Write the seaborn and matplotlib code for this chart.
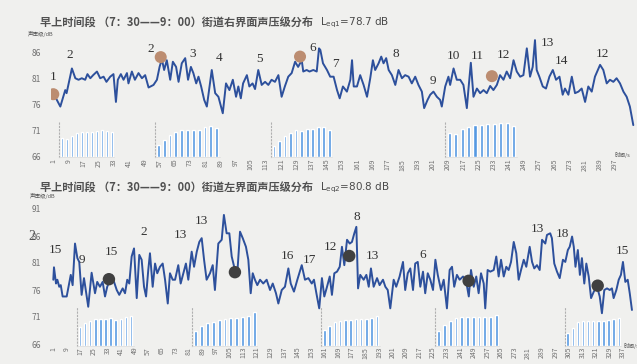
import matplotlib
matplotlib.use("Agg")
import matplotlib.pyplot as plt
import seaborn as sns

sns.set_theme(style="white")
plt.rcParams['font.family'] = ['Noto Sans CJK SC', 'DejaVu Sans']

# ---------------- data: right facade (top) ----------------
top_t = [1, 4.7, 7.3, 8, 10.8, 12.6, 14.3, 16, 17.8, 19, 20.5, 22, 24, 25.7, 27.5, 29, 31, 32.7, 34, 35,
         36.6, 38, 39.8, 40.6, 42.4, 44, 45.9, 47.7, 49.4, 51.2, 53.8, 55.6, 57, 58.2, 59.4, 60.8, 62.6, 64, 65.7, 67,
         68.7, 70.5, 72, 73.5, 74.8, 76.3, 77.5, 78.9, 80.5, 81.9, 83.3, 84.5, 86.3, 88, 90.3, 92, 93.8, 95.6, 97.3, 98.5,
         99.8, 101, 103, 104.3, 106, 107.3, 109, 110.8, 112.6, 114.3, 116, 117.8, 119.6, 121.3, 123, 124.8, 126.6, 128.4, 130, 131.9,
         132.7, 134.5, 136, 138, 139.8, 141, 141.7, 143.1, 145.2, 146.9, 148.7, 150.5, 151.9, 153.6, 155.7, 157.5, 158.4, 159.3, 161, 162.7,
         164.5, 166.3, 168, 169.4, 170.6, 172.4, 173.8, 175, 176.4, 177.7, 179.4, 181.2, 182.9, 184.7, 186.4, 188.2, 189.9, 191.7, 193.4, 195.2,
         196.4, 198.2, 199.6, 201.3, 203.1, 204.8, 205.7, 207.5, 209.2, 210.1, 211.9, 213.6, 215.4, 217.1, 218.9, 219.7, 221, 222.4, 224.2, 225.9,
         227.7, 229.4, 231.2, 232.9, 234.7, 236.4, 238.2, 239.9, 241.7, 243.5, 245.2, 247, 248.7, 250.5, 252.2, 253.6, 254.8, 255.7, 257.1, 258.9,
         260.6, 262.4, 264.2, 265.9, 267.7, 269.4, 270.6, 272.4, 274.2, 275.9, 277.7, 279.4, 281.2, 282.9, 284.7, 286.4, 289.1, 290.8, 292.6, 294.3,
         296.1, 297.8, 299.6, 301.4, 303.1, 304.8, 306.6]
top_db = [78.2, 75.6, 78.8, 78.2, 83.0, 81.1, 80.8, 81.1, 80.8, 81.9, 81.1, 81.7, 82.4, 81.1, 81.4, 80.4, 81.4, 81.9, 76.5, 80.8,
          81.9, 80.8, 82.1, 80.1, 82.4, 80.8, 82.1, 81.1, 81.7, 79.3, 79.8, 80.8, 83.3, 84.8, 82.7, 84.6, 80.8, 84.3, 83.3, 80.4,
          84.0, 85.0, 80.8, 83.3, 82.1, 80.1, 81.4, 79.5, 76.9, 75.6, 79.5, 82.7, 78.2, 77.5, 74.3, 80.1, 78.8, 80.8, 77.5, 79.5,
          77.2, 80.1, 81.7, 79.5, 80.1, 79.0, 82.7, 79.8, 80.4, 79.8, 80.8, 80.4, 81.7, 77.5, 79.5, 81.4, 82.1, 84.3, 83.3, 84.6,
          82.4, 82.7, 82.4, 82.7, 82.4, 86.9, 86.6, 84.0, 82.7, 81.4, 81.4, 78.8, 77.2, 79.5, 78.5, 80.8, 84.6, 79.5, 79.5, 81.7,
          79.8, 77.5, 81.1, 84.6, 82.7, 84.0, 85.3, 84.0, 85.0, 82.7, 81.7, 79.8, 82.7, 81.1, 81.7, 81.4, 80.1, 81.4, 79.8, 78.5,
          75.3, 76.9, 77.9, 78.5, 77.5, 76.9, 75.6, 79.5, 81.4, 79.8, 83.0, 80.8, 80.8, 79.8, 75.3, 78.8, 84.1, 77.5, 79.1, 78.2,
          78.8, 78.2, 79.6, 78.8, 79.8, 81.7, 80.8, 82.4, 81.1, 84.6, 82.4, 81.4, 81.7, 86.9, 81.4, 83.3, 88.5, 82.7, 81.4, 79.5,
          79.1, 81.4, 82.7, 80.8, 81.4, 77.9, 79.1, 77.9, 81.4, 78.2, 78.5, 79.1, 76.5, 79.5, 78.5, 81.4, 83.7, 82.7, 80.1, 80.8,
          80.4, 81.1, 80.1, 78.5, 77.5, 75.6, 72.0]
top_ticks = list(range(1, 298, 8))

top_note_text = ["1", "2", "2", "3", "4", "5", "6", "7", "8", "9", "10", "11", "12", "13", "14", "12"]
top_note_t = [1, 9.8, 52.4, 74.5, 88.3, 109.5, 137.5, 149.7, 181.6, 200.9, 212.1, 224.4, 238.4, 261.1, 268.5, 290.1]
top_note_db = [81.4, 85.6, 86.7, 85.8, 85.1, 84.8, 86.9, 83.9, 85.8, 80.6, 85.4, 85.4, 85.6, 88.0, 84.4, 85.9]
top_dot_t = [1, 57.6, 131, 232.1]
top_dot_db = [78.0, 85.2, 85.3, 81.5]

top_bars = [
    [18.7, 17.7, 21.3, 23.7, 25, 25, 25.3, 26, 27, 26.3, 24.7],
    [12.3, 17.3, 22.3, 24.7, 26.7, 27.3, 27.3, 27.3, 30, 30.7, 29],
    [10.7, 15.7, 20.7, 24, 26.7, 26.3, 28, 28, 30.3, 30, 27.3],
    [24.3, 23.3, 27.7, 29.7, 32.3, 32.3, 33, 33, 34, 34, 31],
]

# ---------------- data: left facade (bottom) ----------------
bot_t = [1, 1.4, 2.6, 3.4, 4.5, 5.4, 6.5, 8.9, 11.3, 12.4, 13.8, 15.2, 16.3, 17.7, 19.1, 20.3, 21.6, 23.6, 25.6, 26.9,
         28.5, 30.1, 31.5, 32.8, 34.4, 36.4, 38.4, 39.9, 41.9, 43.3, 44.6, 45.8, 47.2, 48.6, 50.2, 51.7, 53.1, 54.5, 55.7, 57,
         58, 59.6, 61, 62.3, 63.9, 65.5, 66.9, 68.5, 69.8, 71.4, 72.8, 74.7, 76.1, 77.7, 79.2, 80.6, 82.6, 84, 85.6, 87.1,
         88.5, 89.9, 91.4, 93.4, 95, 96.3, 98.3, 100.3, 101.6, 103.2, 104.8, 106.2, 108.1, 109.5, 111.1, 112.7, 114.6, 116, 117.4, 118.6,
         119.9, 121.3, 122.9, 124.8, 126.8, 128.8, 130.4, 132.3, 133.7, 135.7, 137.6, 139.6, 141, 142.9, 144.9, 147.5, 149.4, 151.4, 153.4, 154.7,
         156.3, 157.8, 159.4, 160.8, 162.4, 164, 165.3, 166.7, 168.3, 169.9, 171.2, 172.6, 174.2, 175.8, 177.1, 178.5, 179.7, 180.7, 182, 184,
         185.6, 187, 188.3, 189.9, 191.9, 193.4, 195.4, 196.8, 198.2, 199.7, 201.7, 203.2, 205.2, 207.2, 208.5, 210, 211.5, 213.1, 214.4, 215.9,
         217.4, 219, 220.3, 221.8, 223.3, 224.9, 226.3, 227.7, 229.6, 231.2, 233.1, 234.7, 236.1, 237.4, 239, 240.6, 242.6, 244.5, 246, 247.3,
         248.9, 250.4, 251.8, 253.2, 254.8, 255.7, 257.1, 258.7, 260.7, 262.2, 263.6, 265, 266.6, 268.1, 269.5, 270.9, 272.5, 274, 275.4, 276.8,
         278.4, 279.9, 281.9, 283.3, 284.6, 286.2, 287.8, 289.2, 291.1, 292.1, 294, 295, 296.4, 298, 299.6, 301.5, 302.9, 304.4, 305.5, 306.9,
         307.9, 308.9, 310.3, 311.5, 312.7, 314.1, 315.3, 316.7, 318.1, 319.7, 321.6, 323.2, 324.5, 325.9, 327.5, 329.1, 330.4, 331.4, 333, 334.4,
         335.7, 336.9, 338.3, 339.7, 340.9, 342.2]
bot_db = [77.9, 80.2, 77.2, 77.9, 76.6, 76.9, 74.8, 74.8, 78.8, 76.9, 84.6, 81.9, 81.2, 75.1, 78.2, 75.7, 72.9, 79.2, 75.4, 77.5,
          76.6, 77.5, 74.8, 76.6, 77.9, 77.9, 76.0, 75.1, 76.3, 75.4, 77.9, 77.2, 82.2, 83.7, 74.5, 82.5, 81.6, 76.6, 74.8, 79.7,
          82.8, 76.6, 80.9, 79.1, 80.3, 80.9, 77.9, 73.5, 79.1, 77.9, 77.9, 80.6, 77.2, 79.1, 80.9, 77.9, 83.1, 80.3, 83.1, 84.9,
          85.6, 81.6, 77.9, 79.1, 80.6, 76.0, 84.6, 85.3, 89.9, 86.5, 86.5, 82.2, 79.7, 79.1, 86.8, 85.6, 84.0, 81.6, 75.4, 79.1,
          77.9, 76.9, 77.9, 77.2, 77.9, 76.0, 77.2, 75.4, 73.5, 76.0, 76.6, 80.0, 77.2, 75.7, 77.9, 80.6, 77.9, 78.2, 77.2, 77.9,
          75.1, 72.6, 78.2, 74.8, 76.6, 78.5, 75.1, 79.1, 79.4, 80.3, 84.0, 80.6, 85.3, 84.6, 84.9, 86.5, 87.7, 76.3, 78.8, 77.9,
          78.8, 76.6, 80.0, 76.6, 78.2, 76.9, 77.9, 76.6, 76.0, 72.6, 77.9, 76.6, 78.5, 81.2, 76.0, 79.1, 80.0, 76.0, 80.9, 81.2,
          76.6, 79.4, 75.4, 79.1, 77.9, 76.0, 81.6, 78.8, 76.0, 77.9, 72.6, 79.7, 80.3, 76.6, 78.8, 77.9, 78.5, 77.5, 74.8, 79.7,
          76.6, 78.5, 75.4, 79.1, 77.2, 72.6, 79.7, 79.4, 79.7, 82.2, 78.5, 81.6, 78.5, 80.3, 79.7, 81.2, 84.9, 82.8, 77.9, 79.7,
          81.6, 80.3, 84.0, 81.2, 80.0, 80.6, 79.7, 85.3, 84.6, 86.2, 86.5, 85.6, 80.9, 79.4, 78.2, 81.6, 81.2, 83.4, 84.0, 85.9,
          84.0, 80.3, 83.4, 78.8, 81.9, 77.2, 80.9, 78.5, 74.5, 75.7, 76.6, 74.8, 71.7, 76.0, 76.3, 76.0, 76.3, 74.5, 76.0, 77.9,
          78.8, 81.2, 77.5, 77.9, 75.4, 72.3]
bot_ticks = list(range(1, 338, 8))

bot_note_text = ["15", "9", "15", "2", "13", "13", "16", "17", "12", "8", "13", "6", "13", "18", "15"]
bot_note_t = [2, 17.7, 35.4, 54.1, 75.7, 88.5, 139, 152, 164.3, 179.7, 188.9, 219, 286.6, 301.4, 336.3]
bot_note_db = [83.4, 81.6, 83.1, 86.7, 86.2, 88.8, 82.3, 81.6, 84.0, 89.5, 82.3, 82.5, 87.3, 86.4, 83.2]
bot_dot_t = [33.8, 108.1, 175.5, 245.9, 322]
bot_dot_db = [78.0, 79.3, 82.3, 77.7, 76.8]

bot_bars = [
    [18.3, 22.3, 24.3, 26.3, 26.7, 26.3, 27.3, 25.7, 27, 29, 30],
    [15, 19.7, 22.3, 24, 25.7, 26.7, 27.3, 27.3, 29, 29.7, 33.3],
    [15.7, 20, 23.3, 24.3, 25.7, 26, 26.7, 26.3, 27, 28, 30],
    [15, 21, 25, 27.7, 28.3, 29, 29, 29, 29, 29, 30.7],
    [12.3, 17.7, 23.3, 25, 25, 25, 25, 25, 25.7, 26.7, 27.3],
]

# ---------------- layout ----------------
W, H = 637, 364
BG = '#f0f0ee'
LINE = '#2d509c'
BAR = '#5599e2'
GREY = '#707070'


def rect(left, top, right, bottom):
    return [left / W, 1 - bottom / H, (right - left) / W, (bottom - top) / H]


fig = plt.figure(figsize=(W / 100, H / 100), dpi=100, facecolor=BG)


def panel(box, t, db, xlim, ylim, ticks, yticks, notes, dots, dot_color, dot_size):
    ax = fig.add_axes(rect(*box))
    ax.set_facecolor('none')
    sns.lineplot(x=t, y=db, ax=ax, sort=False, estimator=None, color=LINE, linewidth=1.4, zorder=3)
    sns.scatterplot(x=dots[0], y=dots[1], ax=ax, s=dot_size, color=dot_color, edgecolor='none', zorder=4)
    for txt, x, y in zip(*notes):
        ax.text(x, y, txt, ha='center', va='center', fontsize=9.5, color='#333333',
                family=['Liberation Serif', 'DejaVu Serif'], zorder=5)
    ax.set_xlim(*xlim)
    ax.set_ylim(*ylim)
    ax.set_xticks(ticks)
    ax.set_xticklabels([str(v) for v in ticks])
    ax.set_yticks(yticks)
    ax.set_yticklabels([str(v) for v in yticks])
    ax.tick_params(axis='x', labelsize=5, labelrotation=90, pad=2, length=0, colors=GREY)
    ax.tick_params(axis='y', labelsize=6, pad=7.5, length=0, colors=GREY)
    ax.set_xlabel('')
    ax.set_ylabel('')
    for s in ax.spines.values():
        s.set_visible(False)
    ax.grid(False)
    return ax


def bar_inset(left, right, bottom, height, vals):
    ia = fig.add_axes(rect(left, bottom - height, right, bottom))
    ia.set_facecolor('none')
    sns.barplot(x=list(range(len(vals))), y=vals, ax=ia, color=BAR, width=0.48, saturation=1)
    ia.set_xlim(-0.6, len(vals) - 0.5)
    ia.set_ylim(0, height)
    ia.set_xticks([])
    ia.set_yticks([])
    ia.set_xlabel('')
    ia.set_ylabel('')
    for k, s in ia.spines.items():
        s.set_visible(k in ('left', 'bottom'))
    ia.spines['left'].set_linestyle((0, (1, 2)))
    ia.spines['left'].set_color('#b0b0b0')
    ia.spines['left'].set_linewidth(0.8)
    ia.spines['bottom'].set_color('#dcdcdc')
    ia.spines['bottom'].set_linewidth(0.5)


# top panel
panel((51.4, 37.55, 635, 156), top_t, top_db, (0, 307.5), (66, 89), top_ticks, [66, 71, 76, 81, 86],
      (top_note_text, top_note_t, top_note_db), (top_dot_t, top_dot_db), '#bc8d71', 75)
top_spans = [(58.7, 114.2), (154.8, 219.6), (270.7, 332.1), (445.4, 516.9)]
for (l, r), vals in zip(top_spans, top_bars):
    bar_inset(l, r, 157, 35, vals)

# bottom panel
panel((51.6, 206.3, 635, 344), bot_t, bot_db, (0, 344), (66, 91.5), bot_ticks, [66, 71, 76, 81, 86, 91],
      (bot_note_text, bot_note_t, bot_note_db), (bot_dot_t, bot_dot_db), '#404040', 80)
bot_spans = [(76.9, 133.6), (192.2, 257.2), (321.1, 379.6), (435.2, 499.2), (564.6, 621.3)]
for (l, r), vals in zip(bot_spans, bot_bars):
    bar_inset(l, r, 345.7, 38, vals)

# titles and axis captions
fig.text(40 / W, 1 - 23 / H, '早上时间段 （7：30——9：00）街道右界面声压级分布', fontsize=8,
         fontweight='bold', color='#505050', va='center', ha='left')
fig.text(320 / W, 1 - 23 / H, r'L$_{\mathrm{eq1}}$=78.7 dB', fontsize=7.5, color='#4a4a4a',
         va='center', ha='left', family='DejaVu Sans')
fig.text(40 / W, 1 - 188 / H, '早上时间段 （7：30——9：00）街道左界面声压级分布', fontsize=8,
         fontweight='bold', color='#505050', va='center', ha='left')
fig.text(320 / W, 1 - 188 / H, r'L$_{\mathrm{eq2}}$=80.8 dB', fontsize=7.5, color='#4a4a4a',
         va='center', ha='left', family='DejaVu Sans')

fig.text(28 / W, 1 - 34 / H, '声压级/dB', fontsize=4, color='#555555', va='center', ha='left')
fig.text(30 / W, 1 - 196 / H, '声压级/dB', fontsize=4, color='#555555', va='center', ha='left')
fig.text(615 / W, 1 - 155 / H, '时间/s', fontsize=4, color='#555555', va='center', ha='left')
fig.text(624 / W, 1 - 346 / H, '时间/s', fontsize=4, color='#555555', va='center', ha='left')
fig.text(32 / W, 1 - 236 / H, '2', fontsize=10, color='#555555', va='center', ha='center',
         family=['Liberation Serif', 'DejaVu Serif'])

fig.savefig('out.png', dpi=100, facecolor=BG)
